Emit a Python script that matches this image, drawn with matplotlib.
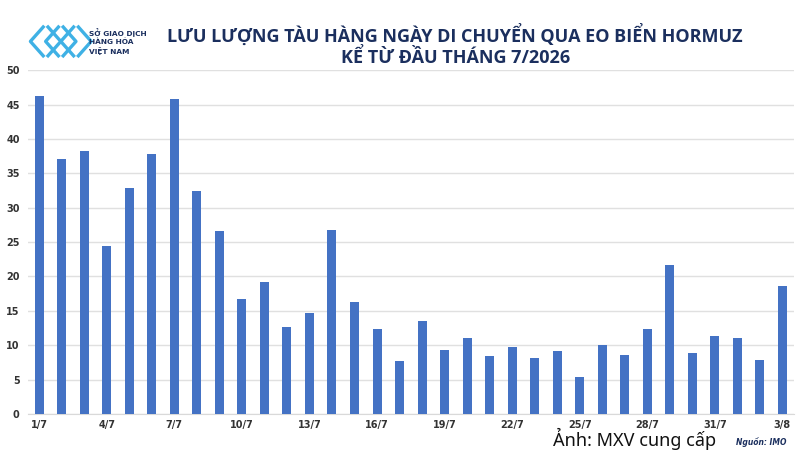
import matplotlib.pyplot as plt
from matplotlib.lines import Line2D

days = ["1/7", "2/7", "3/7", "4/7", "5/7", "6/7", "7/7", "8/7", "9/7", "10/7",
        "11/7", "12/7", "13/7", "14/7", "15/7", "16/7", "17/7", "18/7", "19/7", "20/7",
        "21/7", "22/7", "23/7", "24/7", "25/7", "26/7", "27/7", "28/7", "29/7", "30/7",
        "31/7", "1/8", "2/8", "3/8"]
ships = [46.2, 37.1, 38.2, 24.5, 32.8, 37.8, 45.8, 32.4, 26.6, 16.7,
         19.2, 12.6, 14.7, 26.7, 16.3, 12.3, 7.7, 13.5, 9.3, 11.1,
         8.4, 9.8, 8.2, 9.1, 5.4, 10.1, 8.6, 12.3, 21.7, 8.8,
         11.3, 11.1, 7.8, 18.6]
yticks = [0, 5, 10, 15, 20, 25, 30, 35, 40, 45, 50]

navy = "#1b2f5e"
fig = plt.figure(figsize=(8, 4.5), dpi=100)
ax = fig.add_axes([0.035, 0.08, 0.957, 0.764])

x = list(range(len(days)))
ax.bar(x, ships, width=0.4, color="#4472c4", zorder=3)
ax.set_xlim(-0.5, len(days) - 0.5)
ax.set_ylim(0, 50)
ax.set_yticks(yticks)
ax.set_xticks(x[::3])
ax.set_xticklabels(days[::3])
ax.grid(axis="y", color="#e0e0e0", lw=1, zorder=0)
for s in ["top", "right", "left"]:
    ax.spines[s].set_visible(False)
ax.spines["bottom"].set_color("#d9d9d9")
ax.tick_params(length=0, labelsize=7, labelcolor="#333333", pad=4)
ax.tick_params(axis="y", pad=6)
for lab in ax.get_xticklabels() + ax.get_yticklabels():
    lab.set_fontweight("bold")

# tiêu đề
fig.text(0.569, 0.922, "LƯU LƯỢNG TÀU HÀNG NGÀY DI CHUYỂN QUA EO BIỂN HORMUZ",
         ha="center", va="center", fontsize=13, fontweight="bold", color=navy,
         family="Open Sans")
fig.text(0.569, 0.872, "KỂ TỪ ĐẦU THÁNG 7/2026",
         ha="center", va="center", fontsize=13, fontweight="bold", color=navy,
         family="Open Sans")

# logo (vẽ gần đúng)
blue = "#3fb1e5"
for k in range(3):
    off = k * 0.019
    fig.add_artist(Line2D([0.054 + off, 0.038 + off, 0.054 + off], [0.94, 0.908, 0.876],
                          color=blue, lw=2.4))
    fig.add_artist(Line2D([0.060 + off, 0.076 + off, 0.060 + off], [0.94, 0.908, 0.876],
                          color=blue, lw=2.4))
fig.text(0.111, 0.927, "SỞ GIAO DỊCH", fontsize=5.3, color=navy, va="center", fontweight="bold")
fig.text(0.111, 0.907, "HÀNG HÓA", fontsize=5.3, color=navy, va="center", fontweight="bold")
fig.text(0.111, 0.887, "VIỆT NAM", fontsize=5.3, color=navy, va="center", fontweight="bold")

fig.text(0.691, 0.008, "Ảnh: MXV cung cấp", fontsize=13, color="#111111",
         family="Noto Sans")
fig.text(0.983, 0.012, "Nguồn: IMO", fontsize=5.5, color=navy, ha="right",
         style="italic", fontweight="bold")

fig.savefig("out.png", dpi=100)
